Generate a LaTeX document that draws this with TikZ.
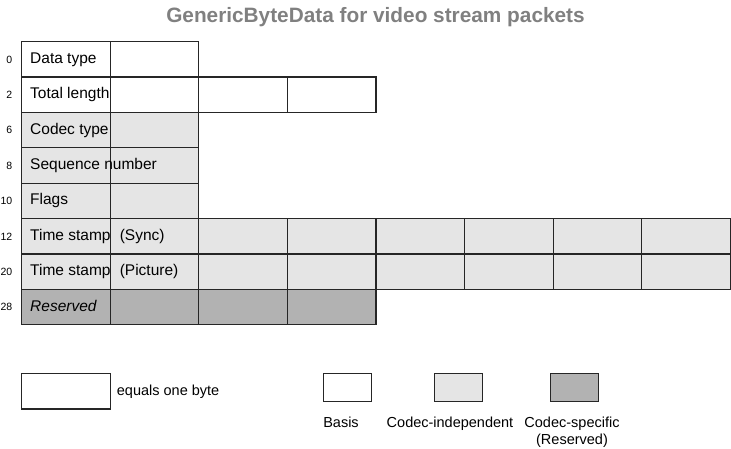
\documentclass[tikz,border=0pt]{standalone}
\usepackage{fontspec}
\setmainfont{Liberation Sans}
\usetikzlibrary{calc, positioning}

\begin{document}
\begin{tikzpicture}
    [x=1pt, y=-1pt,
    bytecell/.style={draw=black!85, line width=1.1pt, minimum width=88.6pt, minimum height=35.4pt, inner sep=0pt, anchor=north west},
    basis/.style={bytecell, fill=white},
    codecind/.style={bytecell, fill=black!10},
    codecspec/.style={bytecell, fill=black!30},
    legendbox/.style={minimum width=48pt, minimum height=28pt},
    fieldname/.style={anchor=base west, inner sep=0pt, font=\fontsize{15.5}{18}\selectfont},
    offset/.style={anchor=base east, inner sep=0pt, font=\fontsize{10.5}{12}\selectfont},
    legendtext/.style={inner sep=0pt, font=\fontsize{14.5}{17}\selectfont}]
\useasboundingbox (0,0) rectangle (731,448);
\node[anchor=base, text=black!50, font=\bfseries\fontsize{20.8}{24}\selectfont] (title) at (375.5,22) {GenericByteData for video stream packets};
\foreach \r/\n/\kind in {0/2/basis, 1/4/basis, 2/2/codecind, 3/2/codecind, 4/2/codecind, 5/8/codecind, 6/8/codecind, 7/4/codecspec}
  \foreach \c in {1,...,\n}
    \node[\kind] (cell-\r-\c) at ({21+(\c-1)*88.6}, {41+\r*35.4}) {};
\foreach \r/\off/\name in {0/0/Data type, 1/2/Total length, 2/6/Codec type, 3/8/Sequence number, 4/10/Flags, 5/12/Time stamp, 6/20/Time stamp, 7/28/\textit{Reserved}}{
  \node[offset] (off-\r) at ($(cell-\r-1.west)+(-8.5,3.8)$) {\off};
  \node[fieldname] (name-\r) at ($(cell-\r-1.west)+(9,4)$) {\name};
}
\node[fieldname] (sync) at ($(cell-5-2.west)+(10,4)$) {(Sync)};
\node[fieldname] (picture) at ($(cell-6-2.west)+(10,4)$) {(Picture)};
\node[basis] (byte) at (21,373) {};
\node[legendtext, anchor=base west] (bytetext) at ($(byte.east)+(6,4.5)$) {equals one byte};
\node[basis, legendbox] (basisbox) at (322.7,373) {};
\node[codecind, legendbox] (indbox) at (434,373) {};
\node[codecspec, legendbox] (specbox) at (550,373) {};
\node[legendtext, anchor=base] (basistext) at (341,427) {Basis};
\node[legendtext, anchor=base] (indtext) at (450,427) {Codec-independent};
\node[legendtext, anchor=north, align=center] (spectext) at (572,416.5) {Codec-specific\\(Reserved)};
\end{tikzpicture}
\end{document}
